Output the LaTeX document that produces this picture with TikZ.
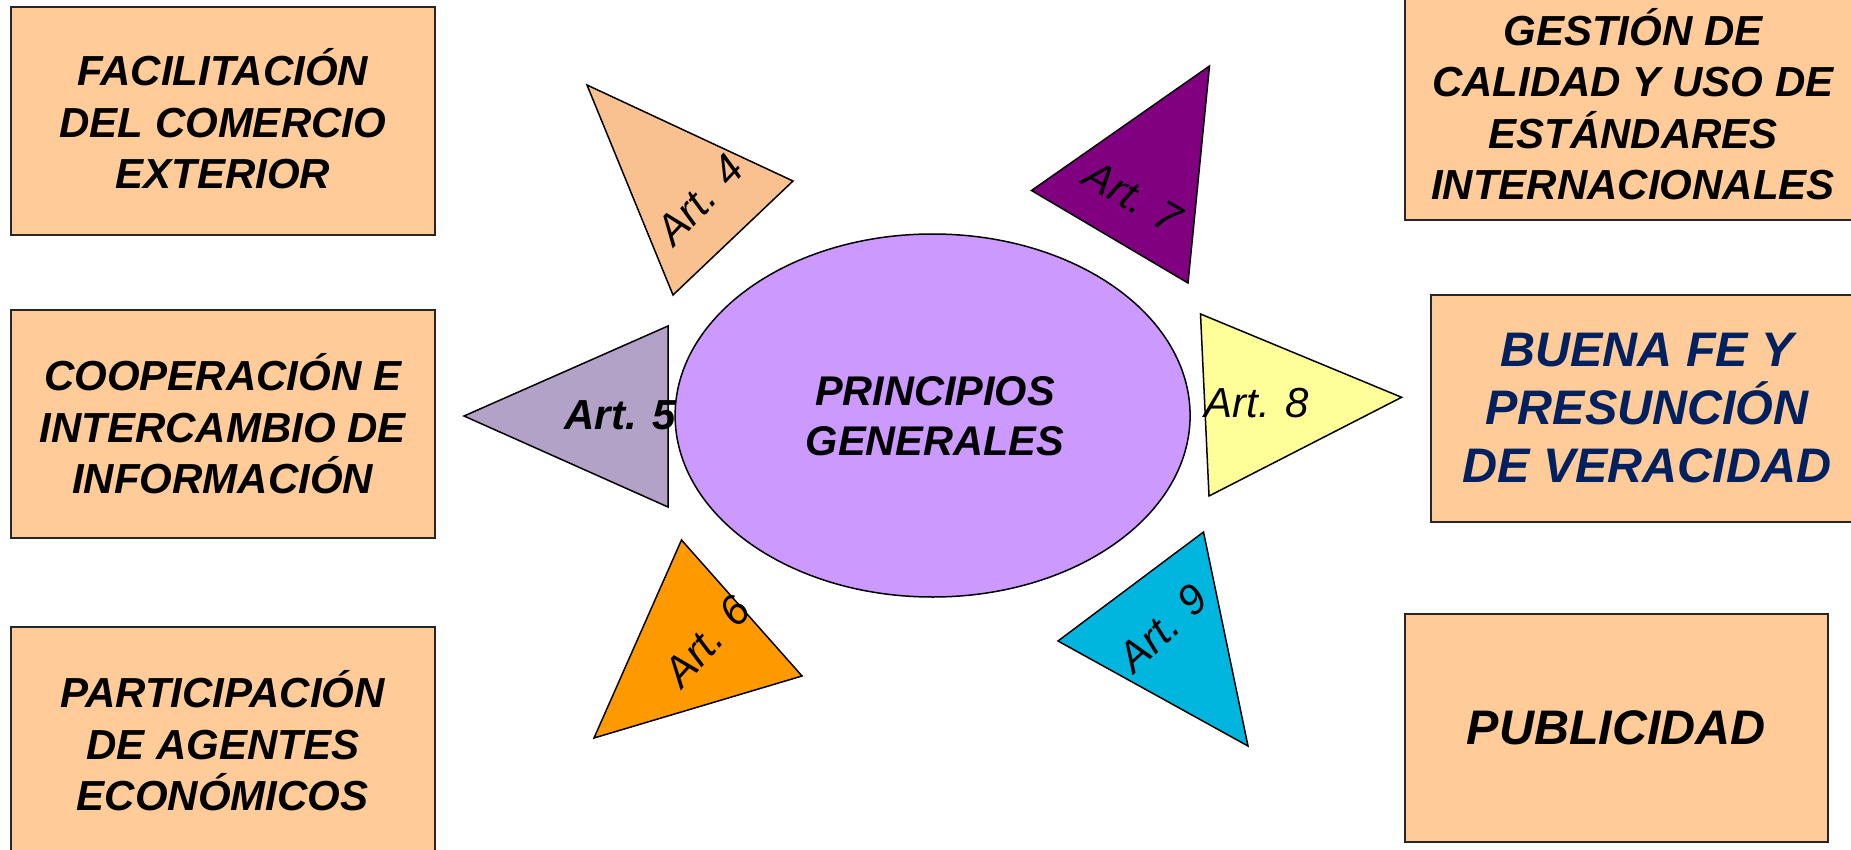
\documentclass[tikz,border=0pt]{standalone}
\usepackage{fontspec}
\usetikzlibrary{shapes.geometric}
\setmainfont{Liberation Sans}
\definecolor{peach}{HTML}{FFCC99}
\definecolor{tfour}{HTML}{F9C190}
\definecolor{tfive}{HTML}{B2A2C7}
\definecolor{tsix}{HTML}{FF9900}
\definecolor{tseven}{HTML}{800080}
\definecolor{teight}{HTML}{FFFF99}
\definecolor{tnine}{HTML}{00B6DE}
\definecolor{lilac}{HTML}{CC99FF}
\definecolor{navy}{HTML}{002060}
\begin{document}
\begin{tikzpicture}[x=1pt,y=-1pt,
  box/.style={draw=black!85,line width=2pt,fill=peach,align=center,inner sep=0pt,
    font=\fontsize{42}{51.5}\selectfont\bfseries\itshape},
  bigbox/.style={box,font=\fontsize{48.5}{58}\selectfont\bfseries\itshape},
  tri/.style={draw=black,line width=1.5pt,line join=miter},
  art/.style={font=\fontsize{42}{50}\selectfont\itshape,inner sep=0pt},
  artb/.style={font=\fontsize{42}{50}\selectfont\bfseries\itshape,inner sep=0pt}]
\useasboundingbox (0,0) rectangle (1851,850);
\clip (0,0) rectangle (1851,850);
% boxes
\node[box,minimum width=424pt,minimum height=227.7pt] (b1) at (222.7,121.2) {};
\node[font=\fontsize{42}{51.5}\selectfont\bfseries\itshape,align=center,inner sep=0pt] (t1) at (222.7,119)
  {FACILITACIÓN\\DEL COMERCIO\\EXTERIOR};
\node[box,minimum width=424pt,minimum height=228pt] (b2) at (222.7,424)
  {COOPERACIÓN E\\INTERCAMBIO DE\\INFORMACIÓN};
\node[box,minimum width=424pt,minimum height=228pt] (b3) at (222.7,741)
  {PARTICIPACIÓN\\DE AGENTES\\ECONÓMICOS};
\node[box,minimum width=456pt,minimum height=227.5pt] (bg) at (1633,106.2) {};
\node[font=\fontsize{42}{51.5}\selectfont\bfseries\itshape,align=center,inner sep=0pt] (tg) at (1633,104)
  {GESTIÓN DE\\CALIDAD Y USO DE\\ESTÁNDARES\\INTERNACIONALES};
\node[bigbox,minimum width=432pt,minimum height=227pt,text=navy] (bb) at (1647,408.5)
  {BUENA FE Y\\PRESUNCIÓN\\DE VERACIDAD};
\node[bigbox,minimum width=423.4pt,minimum height=228pt] (bp) at (1616.3,728)
  {PUBLICIDAD};
% ellipse
\node[draw=black,line width=1.5pt,fill=lilac,ellipse,minimum width=515pt,minimum height=363pt,inner sep=0pt] (el) at (932.6,415.5) {};
\node[font=\fontsize{41.5}{50}\selectfont\bfseries\itshape,align=center,inner sep=0pt] (elt) at (935,416) {PRINCIPIOS\\GENERALES};
% triangles
\draw[tri,fill=tfour] (587,85) -- (793,181) -- (673,295) -- cycle;
\draw[tri,fill=tfive] (668,326) -- (464,416) -- (668,507) -- cycle;
\draw[tri,fill=tsix] (681.5,540) -- (802,676) -- (594,738) -- cycle;
\draw[tri,fill=tseven] (1209.5,66) -- (1031.5,190.5) -- (1188,283) -- cycle;
\draw[tri,fill=teight] (1200.5,314) -- (1401.6,397.3) -- (1209,496) -- cycle;
\draw[tri,fill=tnine] (1203.5,532) -- (1058,641) -- (1248,746) -- cycle;
% labels
\node[art,rotate=47] (a4) at (700,200) {Art. 4};
\node[artb] (a5) at (620,415) {Art. 5};
\node[art,rotate=48] (a6) at (707,641) {Art. 6};
\node[art,rotate=-30] (a7) at (1133,197) {Art. 7};
\node[art] (a8) at (1256.5,403) {Art. 8};
\node[art,rotate=43] (a9) at (1163,628) {Art. 9};
\end{tikzpicture}
\end{document}
